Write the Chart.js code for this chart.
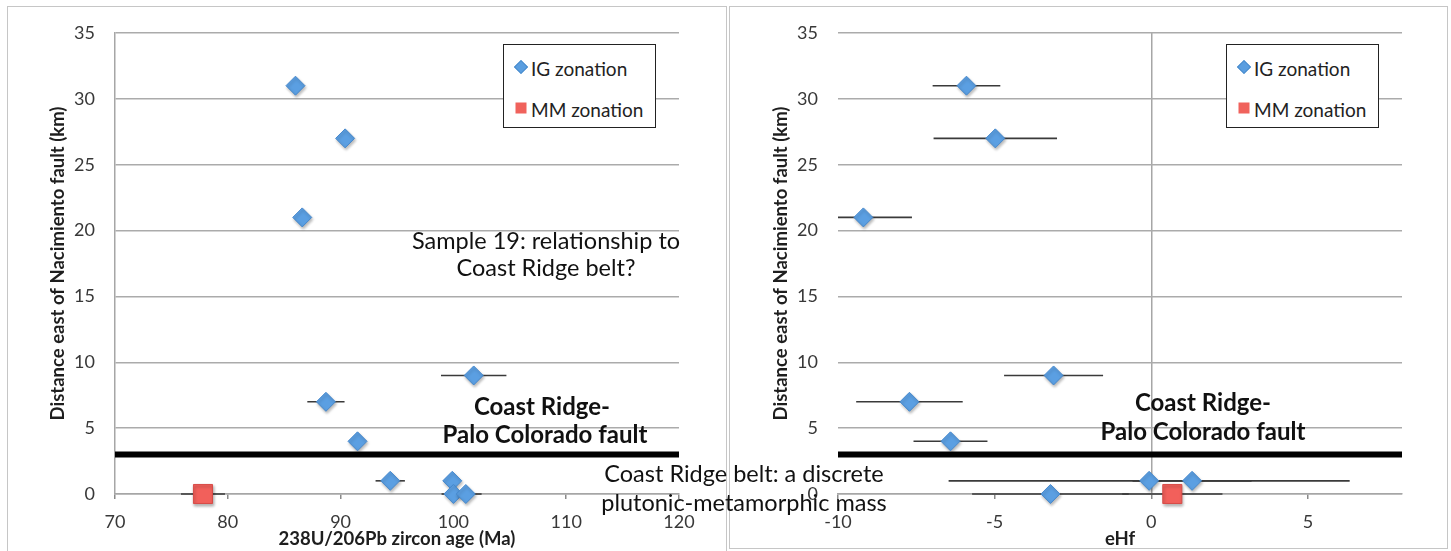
<!DOCTYPE html>
<html><head><meta charset="utf-8">
<script src="https://cdn.jsdelivr.net/npm/chart.js@4.4.1/dist/chart.umd.min.js"></script>
<style>
html,body{margin:0;padding:0;background:#fff;width:1451px;height:551px;overflow:hidden;font-family:Lato,sans-serif;}
.panel{position:absolute;border:1.5px solid #c6c6c6;box-sizing:border-box;}
.wrap{position:absolute;top:0;height:551px;}
.ann{position:absolute;white-space:nowrap;transform:translate(-50%,-50%);color:#111;line-height:1;font-size:23.5px;}
.b{font-weight:bold;font-size:24px;}
.legend{position:absolute;border:1.5px solid #222;background:#fff;box-sizing:border-box;width:153px;height:84px;top:44px;}
.li{position:absolute;left:27px;white-space:nowrap;font-size:19px;color:#222;transform:translateY(-50%);line-height:1;}
.dia{position:absolute;width:8px;height:8px;background:#5a9ee0;border:1px solid #4a8ccc;transform:translate(-50%,-50%) rotate(45deg);}
.sq{position:absolute;width:11px;height:11px;background:#f0625c;transform:translate(-50%,-50%);}
</style></head>
<body>
<div class="panel" style="left:7px;top:6px;width:720px;height:560px;"></div>
<div class="panel" style="left:729px;top:6px;width:719px;height:543px;"></div>
<div class="wrap" style="left:0;width:728px;"><canvas id="c1"></canvas></div>
<div class="wrap" style="left:728px;width:723px;"><canvas id="c2"></canvas></div>

<div class="legend" style="left:503px;">
  <div class="dia" style="left:17px;top:22px;"></div><div class="li" style="top:23px;">IG zonation</div>
  <div class="sq" style="left:17px;top:63px;"></div><div class="li" style="top:64px;">MM zonation</div>
</div>
<div class="legend" style="left:1226px;">
  <div class="dia" style="left:17px;top:22px;"></div><div class="li" style="top:23px;">IG zonation</div>
  <div class="sq" style="left:17px;top:63px;"></div><div class="li" style="top:64px;">MM zonation</div>
</div>

<div class="ann" style="left:546px;top:241px;">Sample 19: relationship to</div>
<div class="ann" style="left:546px;top:268px;">Coast Ridge belt?</div>
<div class="ann b" style="left:542px;top:406px;">Coast Ridge-</div>
<div class="ann b" style="left:545px;top:434px;">Palo Colorado fault</div>
<div class="ann b" style="left:1203px;top:402px;">Coast Ridge-</div>
<div class="ann b" style="left:1203px;top:431px;">Palo Colorado fault</div>

<script>
// ---- data ----
const distTicks = [0, 5, 10, 15, 20, 25, 30, 35];
const ageTicks = [70, 80, 90, 100, 110, 120];
const hfTicks = [-10, -5, 0, 5];
const distRange = [0, 35];
const ageRange = [70, 120];
const hfRange = [-10, 8];

// left chart: 238U/206Pb zircon age (Ma)
const igAge     = [86.0, 90.4, 86.6, 101.8, 88.7, 91.5, 94.4, 99.9, 100.0, 101.1];
const igAgeErr  = [0, 0, 0, 2.9, 1.65, 0, 1.3, 0, 1.05, 1.4];
const igAgeDist = [31, 27, 21, 9, 7, 4, 1, 1, 0, 0];
const mmAge     = [77.8];
const mmAgeErr  = [1.95];
const mmAgeDist = [0];

// right chart: eHf
const igHf     = [-5.9, -4.98, -9.19, -3.12, -7.72, -6.41, -0.07, 1.3, -3.22];
const igHfErr  = [1.08, 1.97, 1.55, 1.58, 1.7, 1.18, 6.4, 1.9, 2.5];
const igHfDist = [31, 27, 21, 9, 7, 4, 1, 1, 0];
const mmHf     = [0.67];
const mmHfErr  = [1.6];
const mmHfDist = [0];

const faultDist = 3;

const yTitle = 'Distance east of Nacimiento fault (km)';
const ageTitle = '238U/206Pb zircon age (Ma)';
const hfTitle = 'eHf';
const seriesNames = ['IG zonation', 'MM zonation'];

// ---- rendering ----
Chart.defaults.font.family = 'Lato, sans-serif';
const zip = (xs, ys) => xs.map((v, i) => ({x: v, y: ys[i]}));

const errorBars = {
  id: 'errorBars',
  beforeDatasetsDraw(chart) {
    const {ctx, chartArea: a, scales: {x, y}} = chart;
    ctx.save();
    ctx.beginPath();
    ctx.rect(a.left, a.top - 20, a.right - a.left, a.bottom - a.top + 40);
    ctx.clip();
    ctx.strokeStyle = '#3a3a3a';
    ctx.lineWidth = 1.6;
    chart.data.datasets.forEach(ds => {
      if (!ds.errX) return;
      ds.data.forEach((p, i) => {
        const e = ds.errX[i];
        if (!e) return;
        const py = y.getPixelForValue(p.y);
        ctx.beginPath();
        ctx.moveTo(x.getPixelForValue(p.x - e), py);
        ctx.lineTo(x.getPixelForValue(p.x + e), py);
        ctx.stroke();
      });
    });
    ctx.restore();
  }
};
const shadows = {
  id: 'shadows',
  beforeDatasetDraw(chart, args) {
    if (args.meta.type === 'scatter') {
      chart.ctx.shadowColor = 'rgba(0,0,0,0.28)';
      chart.ctx.shadowBlur = 3;
      chart.ctx.shadowOffsetX = 1;
      chart.ctx.shadowOffsetY = 2;
    }
  },
  afterDatasetDraw(chart) {
    chart.ctx.shadowColor = 'rgba(0,0,0,0)';
    chart.ctx.shadowBlur = 0;
    chart.ctx.shadowOffsetX = 0;
    chart.ctx.shadowOffsetY = 0;
  }
};

function makeChart(id, cfg) {
  const datasets = [
    {label: seriesNames[0], type: 'scatter', data: zip(cfg.igX, cfg.igY), errX: cfg.igE,
     pointStyle: 'rectRot', pointRadius: 9.5, backgroundColor: '#5b9fe2', borderColor: '#4688cc', borderWidth: 1, order: 1, clip: false},
    {label: seriesNames[1], type: 'scatter', data: zip(cfg.mmX, cfg.mmY), errX: cfg.mmE,
     pointStyle: 'rect', pointRadius: 13.5, backgroundColor: '#f2605b', borderColor: '#d84c48', borderWidth: 1, order: 2, clip: false},
    {label: 'fault', type: 'line', showLine: true, data: zip(cfg.xRange, [faultDist, faultDist]),
     borderColor: '#000', borderWidth: 6, pointRadius: 0, order: 3, clip: false}
  ];
  return new Chart(document.getElementById(id), {
    type: 'scatter',
    data: {datasets},
    plugins: [errorBars, shadows],
    options: {
      responsive: true, maintainAspectRatio: false, animation: false, events: [],
      layout: {padding: {left: cfg.padLeft, right: 49, top: 33, bottom: 0}},
      plugins: {legend: {display: false}, tooltip: {enabled: false}},
      scales: {
        x: {
          type: 'linear', min: cfg.xRange[0], max: cfg.xRange[1],
          afterBuildTicks: s => { s.ticks = cfg.xTicks.map(v => ({value: v})); },
          afterFit: s => { s.height = 57; },
          grid: {drawOnChartArea: cfg.zeroLine, drawTicks: true, tickLength: 5, tickColor: '#8a8a8a', lineWidth: 1.5,
                 color: c => (cfg.zeroLine && c.tick && c.tick.value === 0) ? '#a6a6a6' : 'rgba(0,0,0,0)'},
          border: {display: true, color: '#a6a6a6', width: 1.5},
          ticks: {padding: 12, color: '#383838', font: {size: 18}, maxRotation: 0},
          title: {display: true, text: cfg.xTitle, color: '#1e1e1e', font: {size: 18.5, weight: 'bold'}, padding: {top: 0, bottom: 1}}
        },
        y: {
          type: 'linear', min: distRange[0], max: distRange[1],
          afterBuildTicks: s => { s.ticks = distTicks.map(v => ({value: v})); },
          afterFit: s => { s.width = cfg.yWidth; },
          grid: {drawTicks: false, color: '#ababab', lineWidth: 1.5},
          border: {display: cfg.yBorder, color: '#a6a6a6', width: 1.5},
          ticks: {padding: 20, color: '#383838', font: {size: 18}},
          title: {display: true, text: yTitle, color: '#1e1e1e', font: {size: 18.5, weight: 'bold'}, padding: {top: 0, bottom: 0}}
        }
      }
    }
  });
}

makeChart('c1', {igX: igAge, igY: igAgeDist, igE: igAgeErr, mmX: mmAge, mmY: mmAgeDist, mmE: mmAgeErr,
  xRange: ageRange, xTicks: ageTicks, xTitle: ageTitle, padLeft: 47, yWidth: 68, zeroLine: false, yBorder: true});
makeChart('c2', {igX: igHf, igY: igHfDist, igE: igHfErr, mmX: mmHf, mmY: mmHfDist, mmE: mmHfErr,
  xRange: hfRange, xTicks: hfTicks, xTitle: hfTitle, padLeft: 42, yWidth: 68, zeroLine: true, yBorder: false});
</script>
<div class="ann" style="left:744px;top:474px;">Coast Ridge belt: a discrete</div>
<div class="ann" style="left:744px;top:503px;">plutonic-metamorphic mass</div>
</body></html>
